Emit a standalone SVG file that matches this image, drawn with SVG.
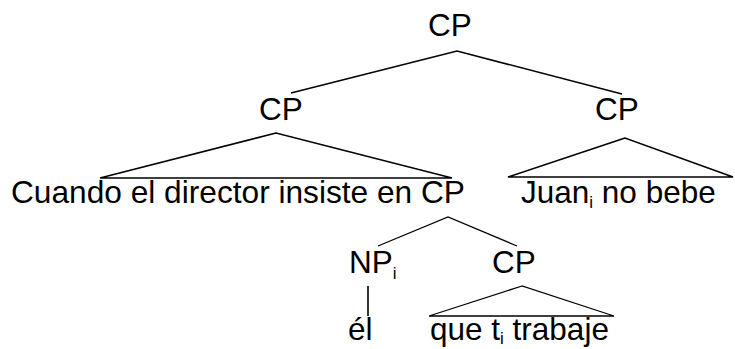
<svg xmlns="http://www.w3.org/2000/svg" width="735" height="349" viewBox="0 0 735 349">
<style>
text{font-family:"Liberation Sans",Arial,sans-serif;font-size:31.5px;fill:#000}
.sub{font-size:17px}
.e{stroke:#000;stroke-width:1.6;fill:none;stroke-linecap:butt}
.t{stroke-width:1.3}
</style>
<rect width="735" height="349" fill="#fff"/>
<g id="connectors">
<polyline class="e" points="291,93 457,51 622,94"/>
<polygon class="e" points="276,133 100,178 452,178"/>
<polygon class="e" points="625,138 508,177 733,177"/>
<polyline class="e t" points="378,246 448,217 517,246"/>
<line class="e" x1="368" y1="286" x2="368" y2="316"/>
<polygon class="e t" points="522,286 429,316 614,316"/>
</g>
<g id="cp-root"><text x="450" y="36" text-anchor="middle">CP</text></g>
<g id="cp-left"><text x="281" y="120" text-anchor="middle">CP</text></g>
<g id="cp-right"><text x="617" y="120" text-anchor="middle">CP</text></g>
<g id="cuando"><text x="11" y="203" textLength="454" lengthAdjust="spacingAndGlyphs">Cuando el director insiste en CP</text></g>
<g id="juan"><text x="521" y="203">Juan<tspan class="sub" dy="5">i</tspan><tspan dy="-5"> no bebe</tspan></text></g>
<g id="np"><text x="349" y="273">NP<tspan class="sub" dy="6">i</tspan></text></g>
<g id="cp-low"><text x="514" y="273" text-anchor="middle">CP</text></g>
<g id="el"><text x="348" y="340">él</text></g>
<g id="que"><text x="430" y="340">que t<tspan class="sub" dy="4">i</tspan><tspan dy="-4"> trabaje</tspan></text></g>
</svg>
